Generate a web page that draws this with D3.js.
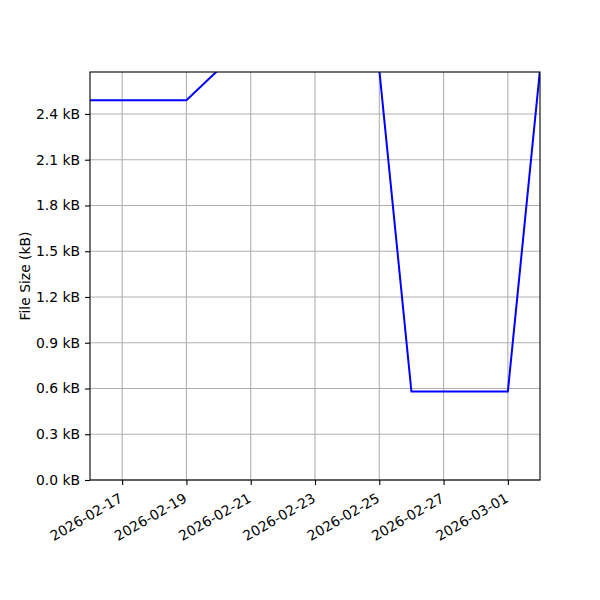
<!DOCTYPE html>
<html>
<head>
<meta charset="utf-8">
<script src="https://cdn.jsdelivr.net/npm/d3@7"></script>
<style>
  body { margin: 0; background: #fff; }
  svg text { font-family: "DejaVu Sans", sans-serif; }
</style>
</head>
<body>
<div id="container"></div>
<script>
const dates = ["2026-02-16","2026-02-17","2026-02-18","2026-02-19","2026-02-20","2026-02-21","2026-02-22",
  "2026-02-23","2026-02-24","2026-02-25","2026-02-26","2026-02-27","2026-02-28","2026-03-01","2026-03-02"];
const sizes = [2.49, 2.49, 2.49, 2.49, 2.69, 2.69, 2.69, 2.69, 2.69, 2.69, 0.58, 0.58, 0.58, 0.58, 2.69];
const yTicks = [0, 0.3, 0.6, 0.9, 1.2, 1.5, 1.8, 2.1, 2.4];
const xTickDates = ["2026-02-17","2026-02-19","2026-02-21","2026-02-23","2026-02-25","2026-02-27","2026-03-01"];

const w = 600, h = 600;
const mLeft = 90, mRight = 540, mTop = 72, mBottom = 480;
const parse = d3.utcParse("%Y-%m-%d");
const fmt = d3.utcFormat("%Y-%m-%d");
const data = dates.map((d, i) => ({ date: parse(d), v: sizes[i] }));

const x = d3.scaleUtc()
  .domain([parse("2026-02-16"), parse("2026-03-02")])
  .range([mLeft, mRight]);
const y = d3.scaleLinear()
  .domain([0, 2.675])
  .range([mBottom, mTop]);

const svg = d3.select("#container").append("svg")
  .attr("width", w).attr("height", h);

svg.append("defs").append("clipPath").attr("id", "clip")
  .append("rect").attr("x", mLeft).attr("y", mTop)
  .attr("width", mRight - mLeft).attr("height", mBottom - mTop);

// grid
const grid = svg.append("g");
grid.selectAll(".vg").data(xTickDates.map(parse)).enter().append("line")
  .attr("x1", d => x(d)).attr("x2", d => x(d))
  .attr("y1", mTop).attr("y2", mBottom)
  .attr("stroke", "#b0b0b0").attr("stroke-width", 1.1);
grid.selectAll(".hg").data(yTicks).enter().append("line")
  .attr("x1", mLeft).attr("x2", mRight)
  .attr("y1", d => y(d)).attr("y2", d => y(d))
  .attr("stroke", "#b0b0b0").attr("stroke-width", 1.1);

// line
const line = d3.line().x(d => x(d.date)).y(d => y(d.v));
svg.append("path")
  .datum(data)
  .attr("clip-path", "url(#clip)")
  .attr("fill", "none")
  .attr("stroke", "blue")
  .attr("stroke-width", 2)
  .attr("d", line);

// axes
const xAxis = d3.axisBottom(x)
  .tickValues(xTickDates.map(parse))
  .tickFormat(fmt)
  .tickSize(5).tickPadding(4);
const yAxis = d3.axisLeft(y)
  .tickValues(yTicks)
  .tickFormat(d => d3.format(".1f")(d) + " kB")
  .tickSize(5).tickPadding(5);

const gx = svg.append("g")
  .attr("transform", "translate(0," + mBottom + ")")
  .call(xAxis);
gx.select(".domain").remove();
gx.selectAll("line").attr("stroke", "#000").attr("stroke-width", 1.1);
gx.selectAll(".tick text")
  .attr("font-size", 13.9).attr("fill", "#000")
  .attr("text-anchor", "end")
  .attr("x", 0).attr("y", 0).attr("dy", 0)
  .attr("transform", "translate(1,21) rotate(-30)");

const gy = svg.append("g")
  .attr("transform", "translate(" + mLeft + ",0)")
  .call(yAxis);
gy.select(".domain").remove();
gy.selectAll("line").attr("stroke", "#000").attr("stroke-width", 1.1);
gy.selectAll("text").attr("font-size", 13.9).attr("fill", "#000");

// frame
svg.append("rect")
  .attr("x", mLeft).attr("y", mTop)
  .attr("width", mRight - mLeft).attr("height", mBottom - mTop)
  .attr("fill", "none").attr("stroke", "#000").attr("stroke-width", 1.1);

svg.append("text")
  .attr("transform", "translate(30," + ((mTop + mBottom) / 2) + ") rotate(-90)")
  .attr("text-anchor", "middle")
  .attr("font-size", 13.9)
  .text("File Size (kB)");
</script>
</body>
</html>
